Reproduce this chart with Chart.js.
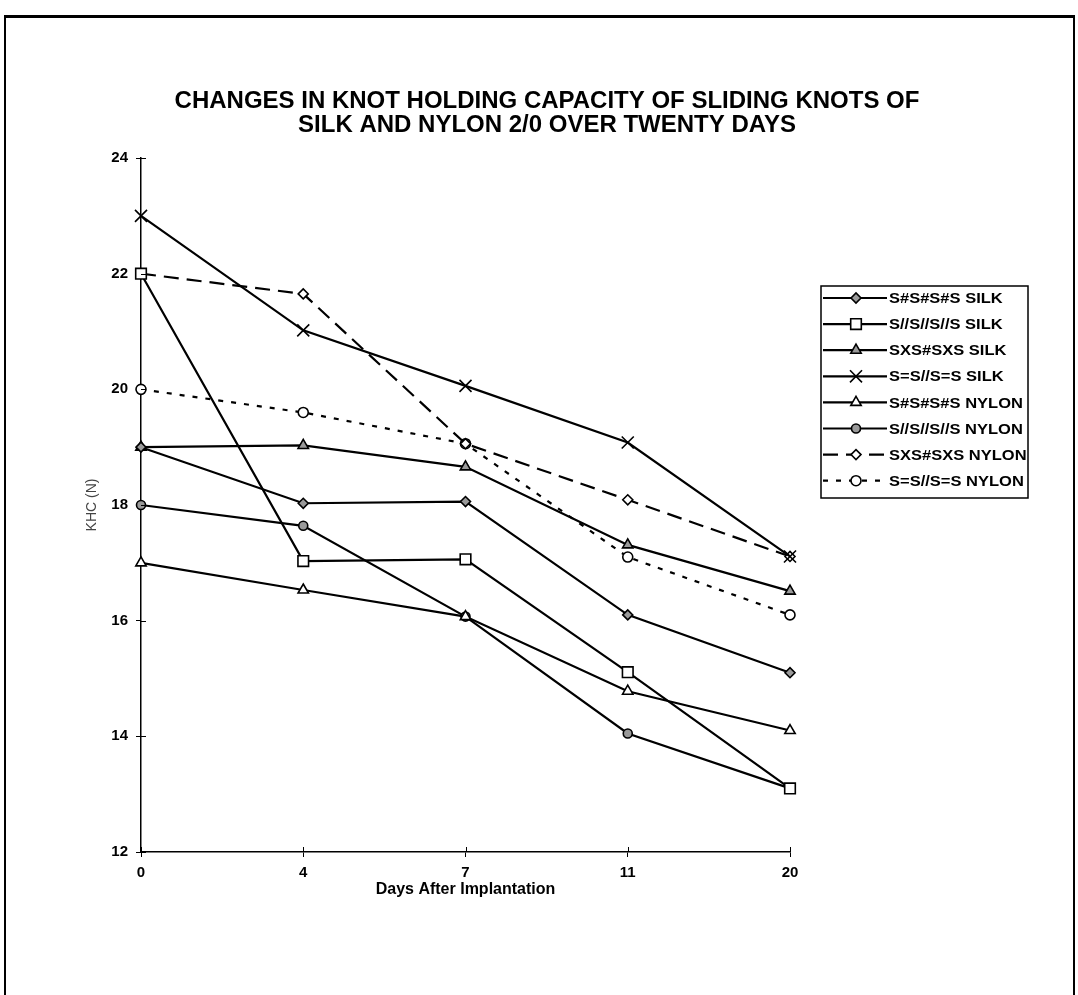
<!DOCTYPE html>
<html>
<head>
<meta charset="utf-8">
<script src="https://cdn.jsdelivr.net/npm/chart.js@4.4.1/dist/chart.umd.min.js"></script>
<style>
  html, body { margin: 0; padding: 0; background: #fff; }
  #frame {
    position: absolute; left: 4px; top: 15px; width: 1071px; height: 985px;
    box-sizing: border-box;
    border-top: 3px solid #000; border-left: 2px solid #000; border-right: 2px solid #000;
  }
  #c { position: absolute; left: 0; top: 0; }
</style>
</head>
<body>
<div id="frame"></div>
<canvas id="c" width="1078" height="995"></canvas>
<script>
// Days after implantation (category axis)
const days = ['0', '4', '7', '11', '20'];

// Knot holding capacity, N
const silkSharp      = [19.0, 18.03, 18.06, 16.10, 15.10]; // S#S#S#S SILK
const silkParallel   = [22.0, 17.03, 17.06, 15.11, 13.10]; // S//S//S//S SILK
const silkSxs        = [19.0, 19.03, 18.66, 17.31, 16.51]; // SXS#SXS SILK
const silkEqual      = [23.0, 21.02, 20.06, 19.08, 17.11]; // S=S//S=S SILK
const nylonSharp     = [17.0, 16.53, 16.07, 14.78, 14.10]; // S#S#S#S NYLON
const nylonParallel  = [18.0, 17.64, 16.07, 14.05, 13.10]; // S//S//S//S NYLON
const nylonSxs       = [22.0, 21.65, 19.06, 18.09, 17.11]; // SXS#SXS NYLON
const nylonEqual     = [20.0, 19.60, 19.06, 17.10, 16.10]; // S=S//S=S NYLON

const seriesNames = [
  'S#S#S#S SILK', 'S//S//S//S SILK', 'SXS#SXS SILK', 'S=S//S=S SILK',
  'S#S#S#S NYLON', 'S//S//S//S NYLON', 'SXS#SXS NYLON', 'S=S//S=S NYLON'
];
const seriesValues = [
  silkSharp, silkParallel, silkSxs, silkEqual,
  nylonSharp, nylonParallel, nylonSxs, nylonEqual
];

const yTicks = [12, 14, 16, 18, 20, 22, 24];
const titleLines = [
  'CHANGES IN KNOT HOLDING CAPACITY OF SLIDING KNOTS OF',
  'SILK AND NYLON 2/0 OVER TWENTY DAYS'
];
const yTitle = 'KHC (N)';
const xTitle = 'Days After Implantation';

// Line and marker styling per series
const GREY = '#9a9a9a';
const styles = [
  { pointStyle: 'rectRot',  radius: 5,   fill: GREY,   dash: [] },
  { pointStyle: 'rect',     radius: 7.5, fill: '#fff', dash: [] },
  { pointStyle: 'triangle', radius: 6,   fill: GREY,   dash: [] },
  { pointStyle: 'crossRot', radius: 8.5, fill: '#000', dash: [] },
  { pointStyle: 'triangle', radius: 6,   fill: '#fff', dash: [] },
  { pointStyle: 'circle',   radius: 4.5, fill: GREY,   dash: [] },
  { pointStyle: 'rectRot',  radius: 5,   fill: '#fff', dash: [15, 8] },
  { pointStyle: 'circle',   radius: 5,   fill: '#fff', dash: [5, 8] }
];

const datasets = seriesNames.map((name, i) => ({
  label: name,
  data: seriesValues[i],
  borderColor: '#000',
  borderWidth: 2.2,
  borderDash: styles[i].dash,
  tension: 0,
  fill: false,
  pointStyle: styles[i].pointStyle,
  pointRadius: styles[i].radius,
  pointHoverRadius: styles[i].radius,
  pointBackgroundColor: styles[i].fill,
  pointBorderColor: '#000',
  pointBorderWidth: 1.6
}));

const FONT = '"Liberation Sans", Arial, Helvetica, sans-serif';

// Two-line heading centred over the page
const headingPlugin = {
  id: 'heading',
  afterDraw(chart) {
    const ctx = chart.ctx;
    ctx.save();
    ctx.fillStyle = '#000';
    ctx.font = 'bold 24px ' + FONT;
    ctx.textAlign = 'center';
    ctx.textBaseline = 'middle';
    titleLines.forEach((t, i) => ctx.fillText(t, 547, 101 + i * 24));
    ctx.restore();
  }
};

// Short tick stubs on the inner side of both axes
const innerTicksPlugin = {
  id: 'innerTicks',
  afterDraw(chart) {
    const { x, y } = chart.scales;
    const ctx = chart.ctx;
    ctx.save();
    ctx.strokeStyle = '#000';
    ctx.lineWidth = 1;
    ctx.beginPath();
    x.ticks.forEach((t, i) => {
      const px = Math.round(x.getPixelForTick(i)) + 0.5;
      ctx.moveTo(px, y.bottom);
      ctx.lineTo(px, y.bottom - 5);
    });
    y.ticks.forEach((t, i) => {
      const py = Math.round(y.getPixelForTick(i)) + 0.5;
      ctx.moveTo(x.left, py);
      ctx.lineTo(x.left + 5, py);
    });
    ctx.stroke();
    ctx.restore();
  }
};

// Boxed legend with line sample and marker for every series
const boxLegendPlugin = {
  id: 'boxLegend',
  afterDraw(chart) {
    const ctx = chart.ctx;
    const box = { x: 821, y: 286, w: 207, h: 212 };
    const rowTop = 298, rowGap = 26.1;
    ctx.save();
    ctx.fillStyle = '#fff';
    ctx.fillRect(box.x, box.y, box.w, box.h);
    ctx.strokeStyle = '#000';
    ctx.lineWidth = 1.5;
    ctx.strokeRect(box.x, box.y, box.w, box.h);
    chart.data.datasets.forEach((ds, i) => {
      const cy = rowTop + i * rowGap;
      ctx.save();
      ctx.strokeStyle = ds.borderColor;
      ctx.lineWidth = ds.borderWidth;
      ctx.setLineDash(ds.borderDash || []);
      ctx.beginPath();
      ctx.moveTo(823, cy);
      ctx.lineTo(887, cy);
      ctx.stroke();
      ctx.restore();
      ctx.save();
      ctx.fillStyle = ds.pointBackgroundColor;
      ctx.strokeStyle = ds.pointBorderColor;
      ctx.lineWidth = ds.pointBorderWidth;
      Chart.helpers.drawPoint(ctx, {
        pointStyle: ds.pointStyle, radius: ds.pointRadius, borderWidth: ds.pointBorderWidth, rotation: 0
      }, 856, cy);
      ctx.restore();
      // label text, set slightly wide
      ctx.save();
      ctx.translate(889, cy + 1);
      ctx.scale(1.1, 1);
      ctx.fillStyle = '#000';
      ctx.font = 'bold 15px ' + FONT;
      ctx.textAlign = 'left';
      ctx.textBaseline = 'middle';
      ctx.fillText(ds.label, 0, 0);
      ctx.restore();
    });
    ctx.restore();
  }
};

new Chart(document.getElementById('c'), {
  type: 'line',
  data: { labels: days, datasets },
  plugins: [headingPlugin, innerTicksPlugin, boxLegendPlugin],
  options: {
    responsive: false,
    animation: false,
    devicePixelRatio: 1,
    layout: { padding: { left: 80, right: 288, top: 158, bottom: 96 } },
    plugins: { legend: { display: false }, title: { display: false }, tooltip: { enabled: false } },
    scales: {
      x: {
        type: 'category',
        offset: false,
        grid: { display: true, drawOnChartArea: false, drawTicks: true, tickLength: 5, color: '#000', lineWidth: 1 },
        border: { display: true, color: '#000', width: 1.5 },
        ticks: { color: '#000', font: { family: FONT, size: 15, weight: 'bold' }, padding: 7, maxRotation: 0 },
        title: { display: true, text: xTitle, color: '#000', font: { family: FONT, size: 16, weight: 'bold' }, padding: { top: 0, bottom: 0 } },
        afterFit(scale) { scale.height = 47; }
      },
      y: {
        min: 12, max: 24,
        afterBuildTicks(scale) { scale.ticks = yTicks.map(v => ({ value: v })); },
        grid: { display: true, drawOnChartArea: false, drawTicks: true, tickLength: 5, color: '#000', lineWidth: 1 },
        border: { display: true, color: '#000', width: 1.5 },
        ticks: { color: '#000', font: { family: FONT, size: 15, weight: 'bold' }, padding: 8 },
        title: { display: true, text: yTitle, color: '#444', font: { family: FONT, size: 14 }, padding: { top: 4, bottom: 4 } },
        afterFit(scale) { scale.width = 61; }
      }
    }
  }
});
</script>
</body>
</html>
